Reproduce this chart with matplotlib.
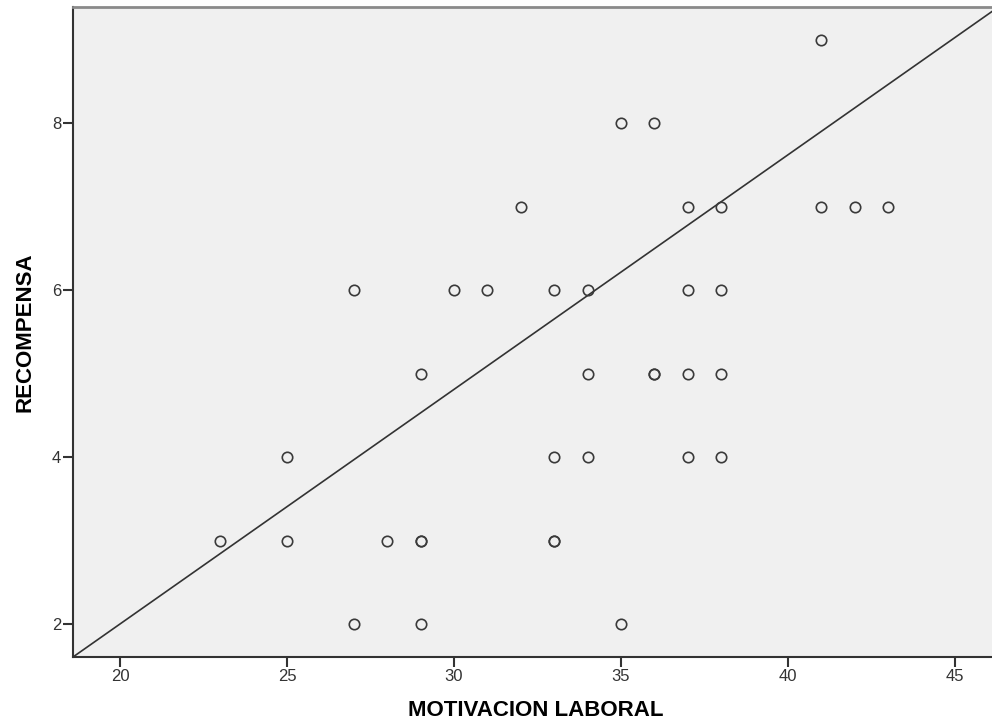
import matplotlib
matplotlib.use("Agg")
import matplotlib.pyplot as plt

plt.rcParams['font.family'] = ['Liberation Sans', 'DejaVu Sans']

# Data (bold circles = two coincident cases)
motivacion = [41,
              35, 36,
              32, 37, 38, 41, 42, 43,
              27, 30, 31, 33, 34, 37, 38,
              29, 34, 36, 36, 37, 38,
              25, 33, 34, 37, 38,
              23, 25, 28, 29, 29, 33, 33,
              27, 29, 35]
recompensa = [9,
              8, 8,
              7, 7, 7, 7, 7, 7,
              6, 6, 6, 6, 6, 6, 6,
              5, 5, 5, 5, 5, 5,
              4, 4, 4, 4, 4,
              3, 3, 3, 3, 3, 3, 3,
              2, 2, 2]
x_ticks = [20, 25, 30, 35, 40, 45]
y_ticks = [2, 4, 6, 8]
x_label = "MOTIVACION LABORAL"
y_label = "RECOMPENSA"

fig = plt.figure(figsize=(9.92, 7.26), dpi=100)
ax = fig.add_axes([73/992, 69/726, (998.4-73)/992, 650/726])
ax.set_facecolor('#f0f0f0')

ax.plot(motivacion, recompensa, linestyle='none', marker='o', ms=7.5,
        mfc='none', mec='#3a3a3a', mew=1.2, zorder=3)

# diagonal reference line
ax.plot([0, 1], [0, 1], transform=ax.transAxes, color='#333333', lw=1.2, zorder=2)

ax.set_xlim(18.59, 46.3)
ax.set_ylim(1.605, 9.39)
ax.set_xticks(x_ticks)
ax.set_yticks(y_ticks)
ax.tick_params(axis='both', direction='out', length=7, width=1.5, color='#333333',
               labelsize=12, labelcolor='#333333', pad=1.5)

for s in ['left', 'bottom']:
    ax.spines[s].set_color('#333333')
    ax.spines[s].set_linewidth(1.5)
ax.spines['top'].set_color('#8a8a8a')
ax.spines['top'].set_linewidth(2)
ax.spines['right'].set_visible(False)

ax.set_xlabel(x_label, fontsize=16, fontweight='bold', labelpad=12)
ax.set_ylabel(y_label, fontsize=16, fontweight='bold', labelpad=12)

fig.savefig('out.png', dpi=100)
